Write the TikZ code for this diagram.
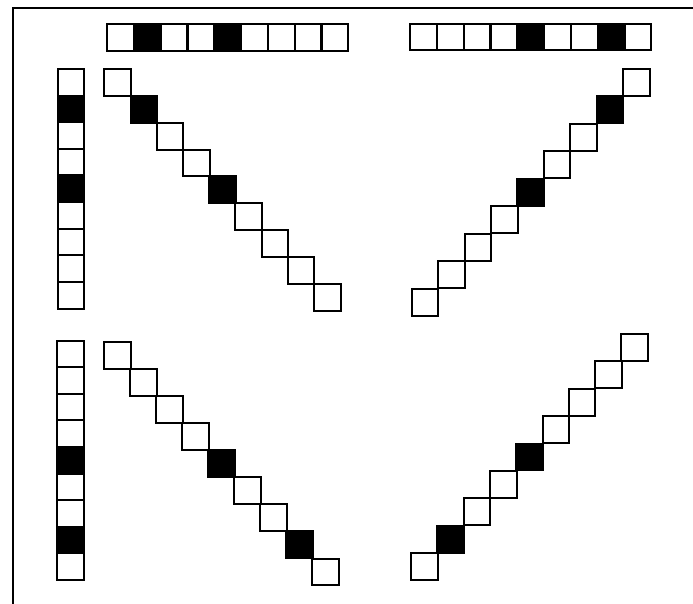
\documentclass[tikz,border=0pt]{standalone}
\begin{document}
\begin{tikzpicture}[x=1pt,y=-1pt,
  cell/.style={draw=black, line width=2pt, minimum width=26.6pt, minimum height=26.8pt, inner sep=0pt, outer sep=0pt},
  frameline/.style={draw=black, line width=2pt}]
\useasboundingbox (0,0) rectangle (693,604);
% frame
\coordinate (ftr) at (693,8.5);
\coordinate (ftl) at (13,8.5);
\coordinate (fbl) at (13,604);
\draw[frameline] (ftr) -- (ftl) -- (fbl);
% top-left row
\foreach \i/\f in {0/white,1/black,2/white,3/white,4/black,5/white,6/white,7/white,8/white}
  \node[cell,fill=\f] (tlr\i) at ({120.4+26.8*\i},37.5) {};
% top-right row
\foreach \i/\f in {0/white,1/white,2/white,3/white,4/black,5/white,6/white,7/black,8/white}
  \node[cell,fill=\f] (trr\i) at ({423.4+26.8*\i},37) {};
% top-left column
\foreach \i/\f in {0/white,1/black,2/white,3/white,4/black,5/white,6/white,7/white,8/white}
  \node[cell,fill=\f] (tlc\i) at (71,{82.4+26.6*\i}) {};
% top-left diagonal
\foreach \i/\f in {0/white,1/black,2/white,3/white,4/black,5/white,6/white,7/white,8/white}
  \node[cell,fill=\f] (tld\i) at ({117.6+26.2*\i},{82.7+26.8*\i}) {};
% top-right diagonal (from bottom-left)
\foreach \i/\f in {0/white,1/white,2/white,3/white,4/black,5/white,6/white,7/black,8/white}
  \node[cell,fill=\f] (trd\i) at ({425+26.4*\i},{302.3-27.5*\i}) {};
% bottom-left column
\foreach \i/\f in {0/white,1/white,2/white,3/white,4/black,5/white,6/white,7/black,8/white}
  \node[cell,fill=\f] (blc\i) at (70.3,{354+26.6*\i}) {};
% bottom-left diagonal
\foreach \i/\f in {0/white,1/white,2/white,3/white,4/black,5/white,6/white,7/black,8/white}
  \node[cell,fill=\f] (bld\i) at ({117.3+26.05*\i},{355.1+27.1*\i}) {};
% bottom-right diagonal (from bottom-left)
\foreach \i/\f in {0/white,1/black,2/white,3/white,4/black,5/white,6/white,7/white,8/white}
  \node[cell,fill=\f] (brd\i) at ({424.3+26.3*\i},{566.6-27.4*\i}) {};
\end{tikzpicture}
\end{document}
